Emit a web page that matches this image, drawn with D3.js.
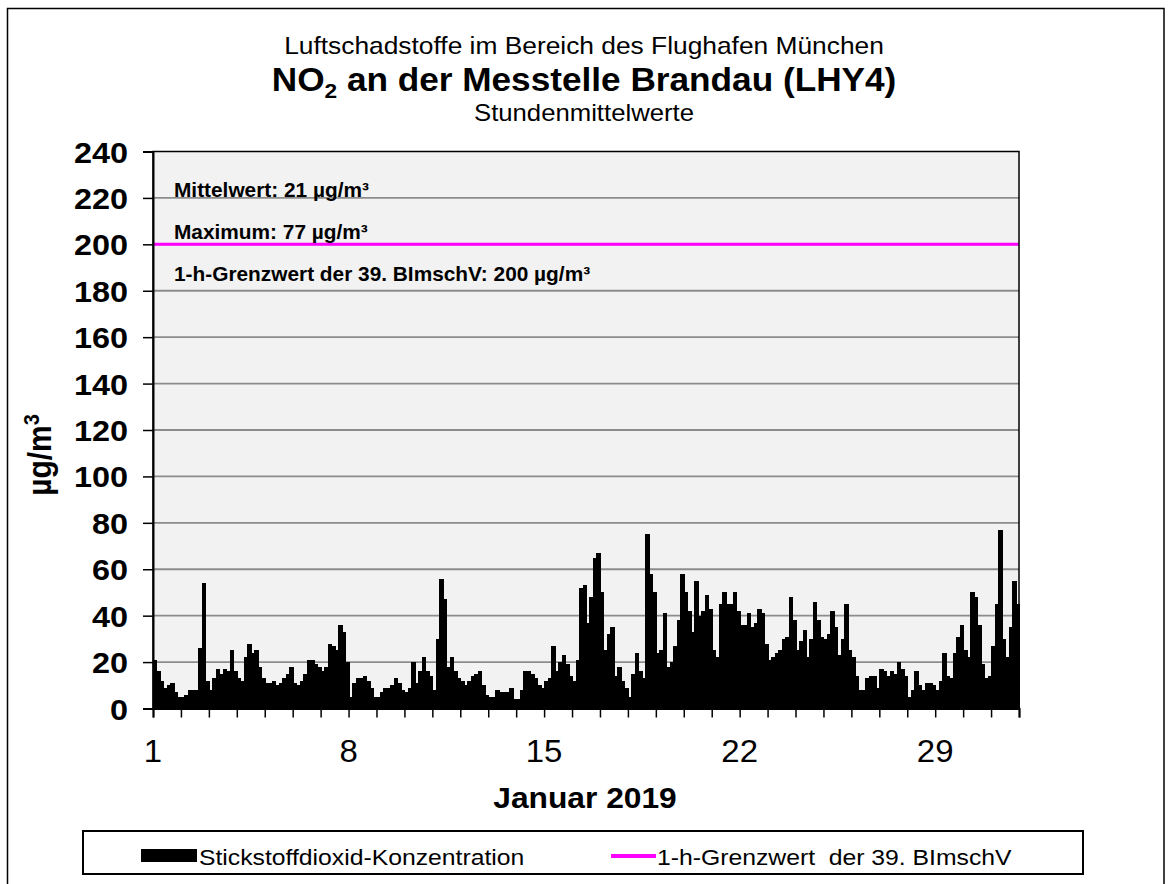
<!DOCTYPE html>
<html>
<head>
<meta charset="utf-8">
<script src="https://cdn.jsdelivr.net/npm/d3@7"></script>
<style>
  body { margin: 0; background: #fff; }
  svg { display: block; font-family: "Liberation Sans", Arial, sans-serif; }
  text { white-space: pre; }
</style>
</head>
<body>
<svg></svg>
<script>
const width = 1168;
const height = 884;

// NO2, Brandau (LHY4), Januar 2019 — 3-Stunden-Blöcke (µg/m³)
const blockHours = 3;
const no2Values = [
  21, 16, 12, 9, 10, 11, 7, 5,      // 1.
  5, 6, 8, 8, 8, 26, 54, 12,        // 2.
  8, 13, 17, 15, 17, 16, 25, 16,    // 3.
  13, 12, 22, 28, 24, 25, 18, 13,   // 4.
  11, 11, 12, 10, 11, 13, 15, 18,   // 5.
  11, 10, 12, 15, 21, 21, 19, 18,   // 6.
  16, 18, 28, 27, 25, 36, 33, 20,   // 7.
  5, 11, 13, 13, 14, 12, 9, 5,      // 8.
  5, 7, 9, 9, 10, 13, 11, 8,        // 9.
  7, 9, 20, 11, 16, 22, 16, 14,     // 10.
  8, 30, 56, 47, 18, 22, 16, 13,    // 11.
  12, 10, 12, 14, 15, 16, 10, 6,    // 12.
  5, 5, 8, 7, 7, 7, 9, 4,           // 13.
  4, 8, 16, 16, 15, 13, 10, 9,      // 14.
  12, 13, 27, 16, 20, 23, 19, 14,   // 15.
  12, 21, 52, 53, 37, 48, 65, 67,   // 16.
  50, 25, 32, 35, 14, 18, 12, 9,    // 17.
  5, 15, 24, 16, 13, 75, 58, 50,    // 18.
  24, 25, 41, 18, 20, 27, 38, 58,   // 19.
  50, 42, 33, 55, 40, 42, 49, 43,   // 20.
  25, 22, 45, 50, 45, 45, 50, 42,   // 21.
  36, 36, 41, 35, 37, 43, 41, 28,   // 22.
  21, 22, 24, 25, 30, 31, 48, 38,   // 23.
  25, 29, 34, 22, 30, 46, 38, 31,   // 24.
  30, 32, 42, 35, 23, 30, 45, 25,   // 25.
  22, 14, 8, 8, 13, 14, 14, 9,      // 26.
  17, 16, 14, 16, 15, 20, 17, 14,   // 27.
  5, 8, 16, 10, 8, 11, 11, 10,      // 28.
  8, 12, 24, 14, 13, 24, 31, 36,    // 29.
  25, 22, 50, 48, 36, 19, 13, 14,   // 30.
  27, 45, 77, 30, 22, 35, 55, 45    // 31.
];

const grenzwert = 200;
const dayLabels = [1, 8, 15, 22, 29];
const yTicks = d3.range(0, 241, 20);
const infoLines = [
  "Mittelwert: 21 µg/m³",
  "Maximum: 77 µg/m³",
  "1-h-Grenzwert der 39. BImschV: 200 µg/m³"
];

const sx = 1.08; // Text ist im Original leicht horizontal gestreckt

const svg = d3.select("svg")
  .attr("width", width)
  .attr("height", height)
  .attr("viewBox", `0 0 ${width} ${height}`);

const plot = { left: 153, right: 1019, top: 151.5, bottom: 708.5 };

const x = d3.scaleLinear()
  .domain([0, 31 * 24])
  .range([plot.left, plot.right]);

const y = d3.scaleLinear()
  .domain([0, 240])
  .range([plot.bottom, plot.top]);

function label(g, px, py, str, size, weight, anchor) {
  return g.append("text")
    .attr("transform", `translate(${px},${py}) scale(${sx},1)`)
    .attr("font-size", size)
    .attr("font-weight", weight || "normal")
    .attr("text-anchor", anchor || "start")
    .attr("fill", "#000")
    .text(str);
}

// outer frame
svg.append("rect")
  .attr("x", 7.5).attr("y", 8.5)
  .attr("width", 1156.5).attr("height", 900)
  .attr("fill", "none")
  .attr("stroke", "#000")
  .attr("stroke-width", 1.5);

// titles
label(svg, 584, 54, "Luftschadstoffe im Bereich des Flughafen München", 24.4, "normal", "middle");

const t2 = label(svg, 584, 91, "NO", 32.6, "bold", "middle");
t2.append("tspan").attr("font-size", 21).attr("dy", 7).text("2");
t2.append("tspan").attr("dy", -7).text(" an der Messtelle Brandau (LHY4)");

label(svg, 584, 121, "Stundenmittelwerte", 23.8, "normal", "middle");

// plot area
svg.append("rect")
  .attr("x", plot.left).attr("y", plot.top)
  .attr("width", plot.right - plot.left)
  .attr("height", plot.bottom - plot.top)
  .attr("fill", "#f2f2f2");

svg.append("g")
  .selectAll("line")
  .data(yTicks.filter(d => d > 0 && d < 240))
  .join("line")
  .attr("x1", plot.left).attr("x2", plot.right)
  .attr("y1", d => y(d)).attr("y2", d => y(d))
  .attr("stroke", "#8c8c8c")
  .attr("stroke-width", 1.8);

// bars
svg.append("g")
  .attr("shape-rendering", "crispEdges")
  .selectAll("rect")
  .data(no2Values)
  .join("rect")
  .attr("x", (d, i) => x(i * blockHours))
  .attr("width", (d, i) => x((i + 1) * blockHours) - x(i * blockHours) + 1)
  .attr("y", d => y(d))
  .attr("height", d => y(0) - y(d))
  .attr("fill", "#000");

// limit line
svg.append("line")
  .attr("x1", plot.left).attr("x2", plot.right)
  .attr("y1", y(grenzwert)).attr("y2", y(grenzwert))
  .attr("stroke", "#ff00ff")
  .attr("stroke-width", 3);

// plot border
svg.append("rect")
  .attr("x", plot.left).attr("y", plot.top)
  .attr("width", plot.right - plot.left)
  .attr("height", plot.bottom - plot.top)
  .attr("fill", "none")
  .attr("stroke", "#000")
  .attr("stroke-width", 1.5);

// axes (ticks only)
const yAxis = svg.append("g")
  .attr("transform", `translate(${plot.left},0)`)
  .call(d3.axisLeft(y).tickValues(yTicks).tickSize(10).tickFormat(""));
yAxis.select(".domain").attr("stroke-width", 2);
yAxis.selectAll(".tick line").attr("stroke-width", 1.5);

const xAxis = svg.append("g")
  .attr("transform", `translate(0,${plot.bottom})`)
  .call(d3.axisBottom(x).tickValues(d3.range(0, 31 * 24 + 1, 24)).tickSize(9).tickFormat(""));
xAxis.select(".domain").attr("stroke-width", 2);
xAxis.selectAll(".tick line").attr("stroke-width", 1.5);

yTicks.forEach(v => {
  label(svg, 128, y(v) + 11, String(v), 30, "bold", "end");
});

dayLabels.forEach(d => {
  label(svg, x((d - 1) * 24), 762, String(d), 30.5, "normal", "middle");
});

label(svg, 585, 808, "Januar 2019", 29.4, "bold", "middle");

const yTitle = svg.append("text")
  .attr("transform", "translate(51,455) rotate(-90) scale(1,1.08)")
  .attr("font-size", 30)
  .attr("font-weight", "bold")
  .attr("text-anchor", "middle")
  .text("µg/m");
yTitle.append("tspan").attr("font-size", 20).attr("dy", -11).text("3");

// info texts
infoLines.forEach((s, i) => {
  label(svg, 174, 197 + i * 42, s, 19.3, "bold", "start");
});

// legend
const legend = svg.append("g");
legend.append("rect")
  .attr("x", 83).attr("y", 831)
  .attr("width", 1000).attr("height", 43)
  .attr("fill", "#fff")
  .attr("stroke", "#000")
  .attr("stroke-width", 2);
legend.append("rect")
  .attr("x", 141).attr("y", 849)
  .attr("width", 56).attr("height", 13)
  .attr("fill", "#000");
label(legend, 199, 865, "Stickstoffdioxid-Konzentration", 22.9, "normal", "start");
legend.append("line")
  .attr("x1", 611).attr("x2", 656)
  .attr("y1", 856).attr("y2", 856)
  .attr("stroke", "#ff00ff")
  .attr("stroke-width", 4);
label(legend, 657, 865, "1-h-Grenzwert  der 39. BImschV", 22.9, "normal", "start");
</script>
</body>
</html>
